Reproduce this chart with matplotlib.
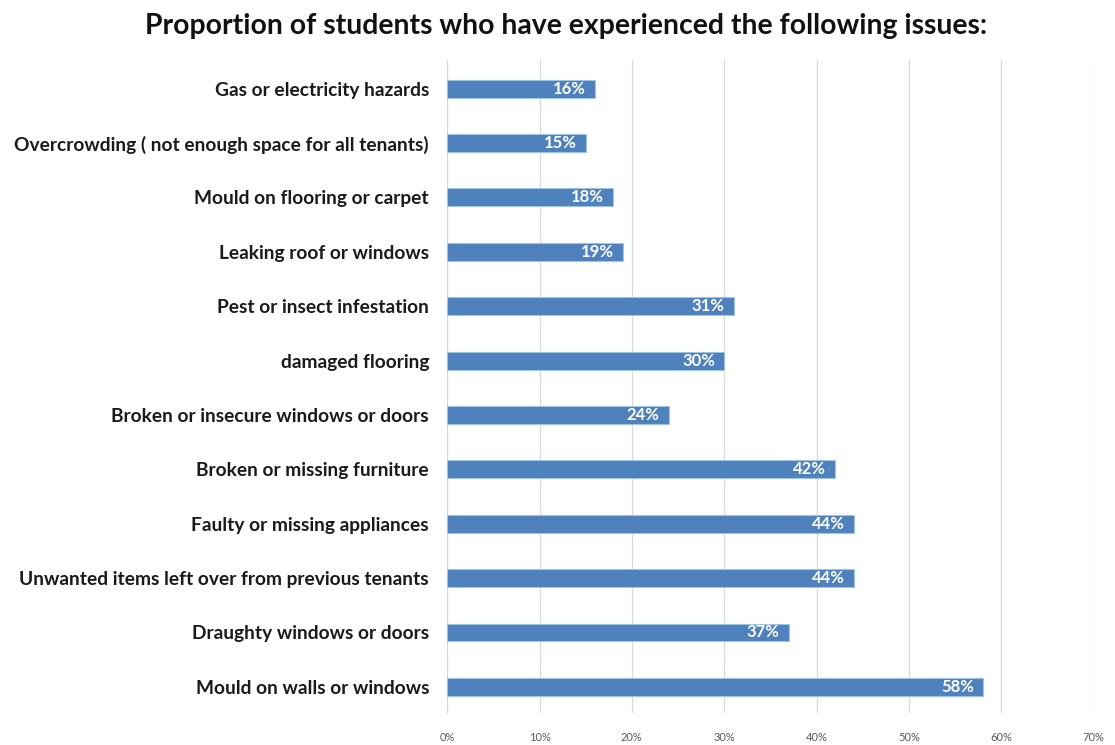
import matplotlib
matplotlib.use("Agg")
import matplotlib.pyplot as plt
from matplotlib.ticker import FuncFormatter

# Issues listed bottom-to-top, with share of students (%)
issues = [
    "Mould on walls or windows",
    "Draughty windows or doors",
    "Unwanted items left over from previous tenants",
    "Faulty or missing appliances",
    "Broken or missing furniture",
    "Broken or insecure windows or doors",
    "damaged flooring",
    "Pest or insect infestation",
    "Leaking roof or windows",
    "Mould on flooring or carpet",
    "Overcrowding ( not enough space for all tenants)",
    "Gas or electricity hazards",
]
shares = [58, 37, 44, 44, 42, 24, 30, 31, 19, 18, 15, 16]
x_ticks = [0, 10, 20, 30, 40, 50, 60, 70]

plt.rcParams["font.family"] = ["Lato", "DejaVu Sans"]

fig = plt.figure(figsize=(11.15, 7.45), dpi=100)
ax = fig.add_axes([0.401, 0.043, 0.580, 0.876])

ypos = list(range(len(issues)))
ax.barh(ypos, shares, height=0.33, color="#4F81BD", edgecolor="#9DC3E6",
        linewidth=0.8, zorder=3)

for y, v in zip(ypos, shares):
    ax.text(v - 1.0, y, f"{v}%", ha="right", va="center", color="white",
            fontsize=12, fontweight="bold", zorder=4)

ax.set_xlim(0, 70)
ax.set_ylim(-0.48, 11.52)
ax.set_xticks(x_ticks)
ax.xaxis.set_major_formatter(FuncFormatter(lambda v, _: f"{int(v)}%"))
ax.set_yticks(ypos)
ax.set_yticklabels(issues, fontsize=13.8, fontweight="bold", color="#1a1a1a")
ax.tick_params(axis="y", length=0, pad=13)
ax.tick_params(axis="x", length=0, labelsize=8, labelcolor="#595959", pad=14)
ax.grid(axis="x", color="#D9D9D9", linewidth=0.9, zorder=0)
for s in ["top", "right", "bottom"]:
    ax.spines[s].set_visible(False)
ax.spines["left"].set_color("#D9D9D9")

fig.text(0.508, 0.965, "Proportion of students who have experienced the following issues:",
         ha="center", va="center", fontsize=20.4, fontweight="bold", color="#111111")

fig.savefig("out.png", dpi=100, facecolor="white")
